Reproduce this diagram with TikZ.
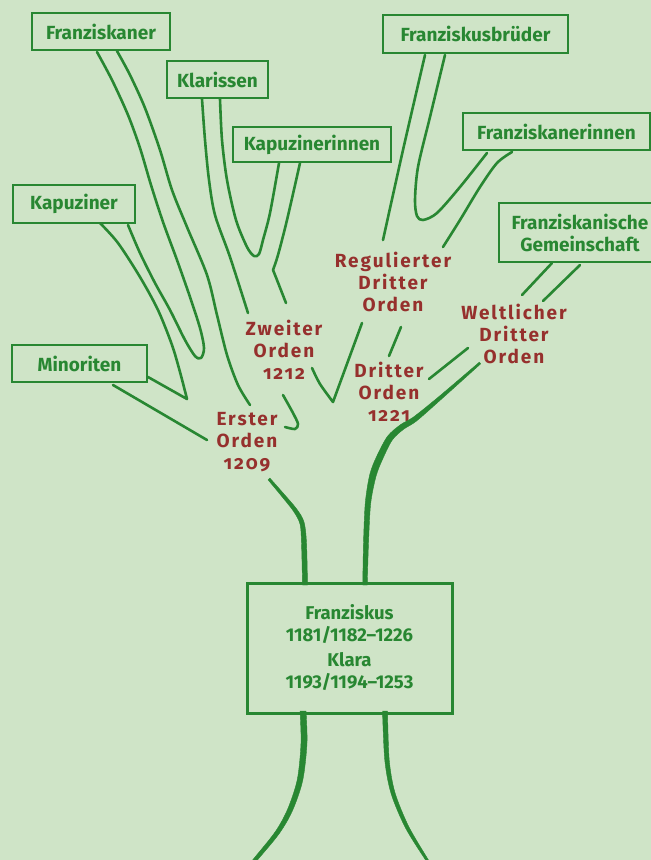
\documentclass[tikz,border=0pt]{standalone}
\usepackage{fontspec}
\setmainfont{Fira Sans}
\newfontfamily\redfam[LetterSpace=10,Numbers=OldStyle]{Fira Sans}
\definecolor{bg}{RGB}{207,228,199}
\definecolor{tg}{RGB}{40,135,50}
\definecolor{tr}{RGB}{150,48,45}
\tikzset{
  lbox/.style={draw=tg, line width=2.8pt, text=tg, font=\bfseries\fontsize{19}{22}\selectfont, inner sep=0pt, align=center},
  rlab/.style={text=tr, font=\redfam\bfseries\fontsize{19}{22}\selectfont, align=center, inner sep=0pt},
  br/.style={draw=tg, line width=2.6pt, line cap=round, line join=round},
  trunk/.style={fill=tg, draw=tg, line width=0.4pt}
}
\begin{document}
\begin{tikzpicture}[x=1pt,y=-1pt]
\useasboundingbox (0,0) rectangle (651,860);
\fill[bg] (0,0) rectangle (651,860);
\clip (0,0) rectangle (651,860);

% boxes
\node[lbox, minimum width=138pt, minimum height=37pt] (franziskaner) at (101,31.5) {Franziskaner};
\node[lbox, minimum width=101pt, minimum height=37pt] (klarissen) at (217.5,79.5) {Klarissen};
\node[lbox, minimum width=158pt, minimum height=35pt] (kapuzinerinnen) at (312,144.5) {Kapuzinerinnen};
\node[lbox, minimum width=122pt, minimum height=38pt] (kapuziner) at (74,204) {Kapuziner};
\node[lbox, minimum width=135pt, minimum height=37pt] (minoriten) at (79.5,363.5) {Minoriten};
\node[lbox, minimum width=185pt, minimum height=38pt] (bruder) at (475.5,34) {Franziskusbrüder};
\node[lbox, minimum width=187pt, minimum height=37pt] (innen) at (556.5,131.5) {Franziskanerinnen};
\node[lbox, minimum width=162pt, minimum height=59pt] (gemeinschaft) at (580,232.5) {Franziskanische\\Gemeinschaft};
\node[lbox, line width=3pt, minimum width=205pt, minimum height=130pt, font=\bfseries\fontsize{18.5}{22}\selectfont] (franz) at (349.5,648)
  {Franziskus\\1181/1182--1226\\[3pt]Klara\\1193/1194--1253};

% red labels
\node[rlab] (erster) at (247,442) {Erster\\Orden\\1209};
\node[rlab] (zweiter) at (284,350) {Zweiter\\Orden\\1212};
\node[rlab] (regul) at (393,282) {Regulierter\\Dritter\\Orden};
\node[rlab] (dritter) at (389,392) {Dritter\\Orden\\1221};
\node[rlab] (welt) at (514,334) {Weltlicher\\Dritter\\Orden};

% trunk pieces (tapered)
\filldraw[trunk] plot[smooth] coordinates {(362.75,585) (363.5,543) (365.3,502.7) (369.9,474) (377.1,455.5) (387.6,436.2) (400.35,424.8) (413.5,417) (438.8,396.7) (479.3,362.2)}
  -- plot[smooth] coordinates {(480.7,363.8) (441.2,399.3) (416.5,421) (403.65,429.2) (392.4,439.8) (382.9,458.5) (376.1,476) (370.7,503.3) (368.5,543) (367.25,585)} -- cycle;
\filldraw[trunk] plot[smooth] coordinates {(307.5,585) (306.5,543) (304,522) (296.6,508.9) (282.1,491.9) (269.9,478.1)}
  -- plot[smooth] coordinates {(268.1,479.9) (279.9,494.1) (293.4,511.1) (300,524) (301.5,543) (302.5,585)} -- cycle;
\filldraw[trunk] plot[smooth] coordinates {(382.5,711) (384.8,760.2) (391.1,793.6) (405.5,827.9) (426,860.7) (434.1,872.6)}
  -- plot[smooth] coordinates {(435.9,871.4) (428,859.3) (408.5,826.1) (394.9,792.4) (389.2,759.8) (387.5,711)} -- cycle;
\filldraw[trunk] plot[smooth] coordinates {(300,711) (301,743) (297.3,779.5) (287.7,809) (275.3,831.7) (253.6,858.8) (245.6,868.8)}
  -- plot[smooth] coordinates {(248.4,871.2) (256.4,861.2) (278.7,834.3) (292.3,811) (302.7,780.5) (307,743) (306,711)} -- cycle;

% left branches
\draw[br] plot[smooth] coordinates {(97,52) (112,80) (128,115) (140,148) (151,185) (163,222) (177,260) (190,297) (200,328) (204,348) (201,358) (195,356) (185,340) (170,310) (155,283) (140,253) (128,225)};
\draw[br] plot[smooth] coordinates {(117,51) (130,75) (145,108) (160,150) (172,190) (187,227) (207,275) (217,315) (227,355) (238,385) (250,405)};
\draw[br] plot[smooth] coordinates {(100,223) (118,243) (140,277) (158,310) (172,345) (180,372) (187,399)} -- (148,377);
\draw[br] (113,385) -- (207,440);
\draw[br] plot[smooth] coordinates {(202,99) (205,140) (209,180) (215,215) (230,257) (248,313)};
\draw[br] plot[smooth] coordinates {(220,99) (222,140) (227,180) (236,220) (247,247) (254,256) (259,254) (263,240) (270,213) (279,163)};
\draw[br] plot[smooth] coordinates {(300,163) (287,220) (278,255) (273,270)} -- (277,280) -- (286,303);
\draw[br] plot[smooth] coordinates {(283,395) (293,413) (298,424) (295,429) (285,427)};
\draw[br] plot[smooth] coordinates {(312,368) (320,384) (333,402)} -- (362,323);

% right branches
\draw[br] (389,356) -- (401,327);
\draw[br] plot[smooth] coordinates {(383,240) (403,150) (425,55)};
\draw[br] plot[smooth] coordinates {(445,55) (430,117) (418,167) (415,200) (417,216) (423,220) (437,213) (460,187) (487,153)};
\draw[br] plot[smooth] coordinates {(443,247) (460,220) (480,187) (497,163) (512,152)};
\draw[br] (522,295) -- (552,263);
\draw[br] (543,301) -- (580,265);
\draw[br] (429,379) -- (468,348);
\end{tikzpicture}
\end{document}
